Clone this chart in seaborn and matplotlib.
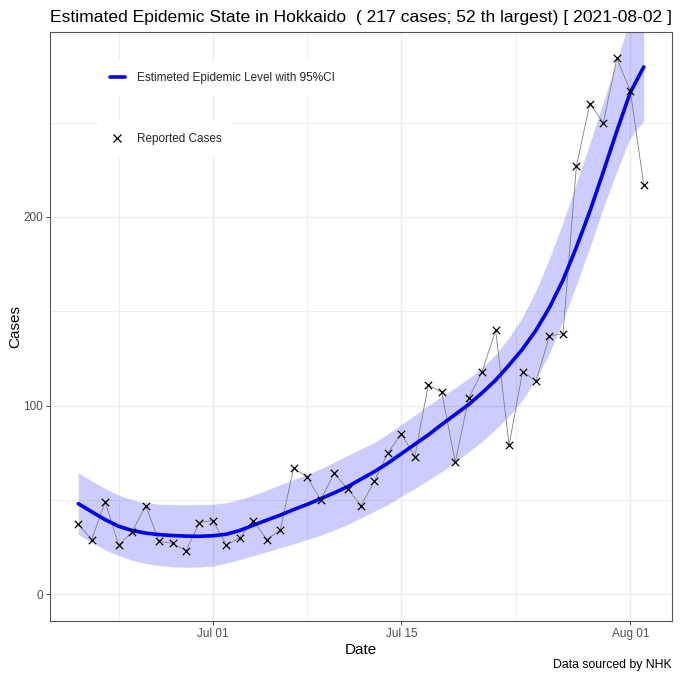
import numpy as np
import pandas as pd
import matplotlib
matplotlib.use("Agg")
import matplotlib.pyplot as plt
import matplotlib.dates as mdates
from matplotlib.lines import Line2D
import seaborn as sns

# ---------------- data ----------------
start_date = "2021-06-21"
end_date = "2021-08-02"
cases = [37, 29, 49, 26, 33, 47, 28, 27, 23, 38,
         39, 26, 30, 39, 29, 34, 67, 62, 50, 64,
         56, 47, 60, 75, 85, 73, 111, 107, 70, 104,
         118, 140, 79, 118, 113, 137, 138, 227, 260, 250, 284,
         267, 217]
estimate = [48, 43.7, 39.5, 36, 33.8, 32.4, 31.6, 31.1, 30.8, 30.7,
            31, 31.8, 33.8, 36.6, 39.3, 41.9, 44.9, 47.6, 50.6, 53.7,
            57, 61, 65, 69.5, 74.5, 79.5, 84.5, 90, 95.3, 100.6,
            106.8, 113.5, 121.5, 130, 140, 152, 166.5, 184, 203, 224, 245.5,
            266, 279.5]
upper = [64.5, 60, 56, 52.5, 50, 48.5, 47.8, 47.5, 47.4, 47.5,
         47.7, 48.5, 50.2, 52.5, 55.2, 58, 60.8, 63.5, 66.5, 70,
         73.5, 77, 80.5, 85, 90, 95, 100, 105, 109.5, 114.5,
         120, 127, 136, 147, 161, 178, 197, 218, 239, 261, 283,
         305, 325]
lower = [31.7, 27.5, 23.5, 20.5, 18, 16.3, 15.2, 14.5, 14.3, 14.4,
         14.9, 16.5, 18.4, 20.5, 22.5, 24.6, 26.8, 29, 31.3, 34,
         37, 40.5, 44, 47.5, 52, 56, 60.5, 65, 70, 75.5,
         81, 87.5, 94.5, 103, 114, 128, 145, 164, 184, 205, 224,
         242, 251]
major_ticks = ["2021-07-01", "2021-07-15", "2021-08-01"]
tick_labels = ["Jul 01", "Jul 15", "Aug 01"]
y_ticks = [0, 100, 200]

title = "Estimated Epidemic State in Hokkaido  ( 217 cases; 52 th largest) [ 2021-08-02 ]"
legend_line_label = "Estimeted Epidemic Level with 95%CI"
legend_point_label = "Reported Cases"
caption = "Data sourced by NHK"

dates = pd.date_range(start_date, end_date, freq="D")
df = pd.DataFrame({"date": dates, "cases": cases, "estimate": estimate,
                   "upper": upper, "lower": lower})

# ---------------- style ----------------
sns.set_theme(style="white")
plt.rcParams["font.family"] = ["Liberation Sans", "DejaVu Sans"]

fig = plt.figure(figsize=(6.8, 6.8), dpi=100)
ax = fig.add_axes([50 / 680, 1 - 621 / 680, 622 / 680, 589.3 / 680])
ax.set_facecolor("white")

# ribbon
ax.fill_between(df["date"], df["lower"], df["upper"], color="#0000FF",
                alpha=0.2, linewidth=0, zorder=2)
# reported cases connecting line and markers
sns.lineplot(data=df, x="date", y="cases", ax=ax, color="#808080",
             linewidth=0.6, zorder=3)
sns.scatterplot(data=df, x="date", y="cases", ax=ax, marker="x",
                color="black", s=28, linewidth=0.9, zorder=5)
# estimate
sns.lineplot(data=df, x="date", y="estimate", ax=ax, color="#0000FF",
             linewidth=2.6, zorder=4)

# limits
ndays = (df["date"].iloc[-1] - df["date"].iloc[0]).days
pad = pd.Timedelta(days=0.05 * ndays)
ax.set_xlim(df["date"].iloc[0] - pad, df["date"].iloc[-1] + pad)
ymax = max(cases)
ax.set_ylim(-0.05 * ymax, 1.05 * ymax)

# ticks and grid
maj = pd.to_datetime(major_ticks)
ax.set_xticks(maj)
ax.set_xticklabels(tick_labels)
minor_x = [maj[0] - (maj[1] - maj[0]) / 2, maj[0] + (maj[1] - maj[0]) / 2,
           maj[1] + (maj[2] - maj[1]) / 2]
ax.set_xticks(minor_x, minor=True)
ax.set_yticks(y_ticks)
ax.set_yticks([50, 150, 250], minor=True)
ax.grid(True, which="major", color="#EBEBEB", linewidth=1.0, zorder=0)
ax.grid(True, which="minor", color="#EBEBEB", linewidth=0.6, zorder=0)
ax.set_axisbelow(True)
ax.tick_params(axis="both", which="major", direction="out", length=3,
               width=0.6, color="#333333", labelsize=8.5,
               labelcolor="#4D4D4D", pad=2, bottom=True, left=True)
ax.tick_params(axis="both", which="minor", length=0)
for s in ax.spines.values():
    s.set_color("#555555")
    s.set_linewidth(0.8)

ax.set_xlabel("Date", fontsize=11, color="black", labelpad=2)
ax.set_ylabel("Cases", fontsize=11, color="black", labelpad=1)
ax.set_title(title, loc="left", fontsize=12.6, color="black", pad=7)
fig.text(672 / 680, 1 - 665 / 680, caption, ha="right", va="center",
         fontsize=8.8, color="black")

# legends
h1 = [Line2D([0], [0], color="#0000FF", linewidth=2.6)]
leg1 = ax.legend(h1, [legend_line_label], loc="upper left",
                 bbox_to_anchor=(0.077, 0.952), borderaxespad=0,
                 frameon=True, fancybox=False, framealpha=1,
                 facecolor="white", edgecolor="none", fontsize=8.5,
                 handlelength=1.3, handletextpad=1.0, borderpad=1.0)
leg1.set_zorder(10)
ax.add_artist(leg1)
h2 = [Line2D([0], [0], color="black", marker="x", linestyle="none",
             markersize=5.5, markeredgewidth=0.9)]
leg2 = ax.legend(h2, [legend_point_label], loc="upper left",
                 bbox_to_anchor=(0.077, 0.848), borderaxespad=0,
                 frameon=True, fancybox=False, framealpha=1,
                 facecolor="white", edgecolor="none", fontsize=8.5,
                 handlelength=1.3, handletextpad=1.0, borderpad=1.0)
leg2.set_zorder(10)

fig.savefig("out.png", dpi=100)
